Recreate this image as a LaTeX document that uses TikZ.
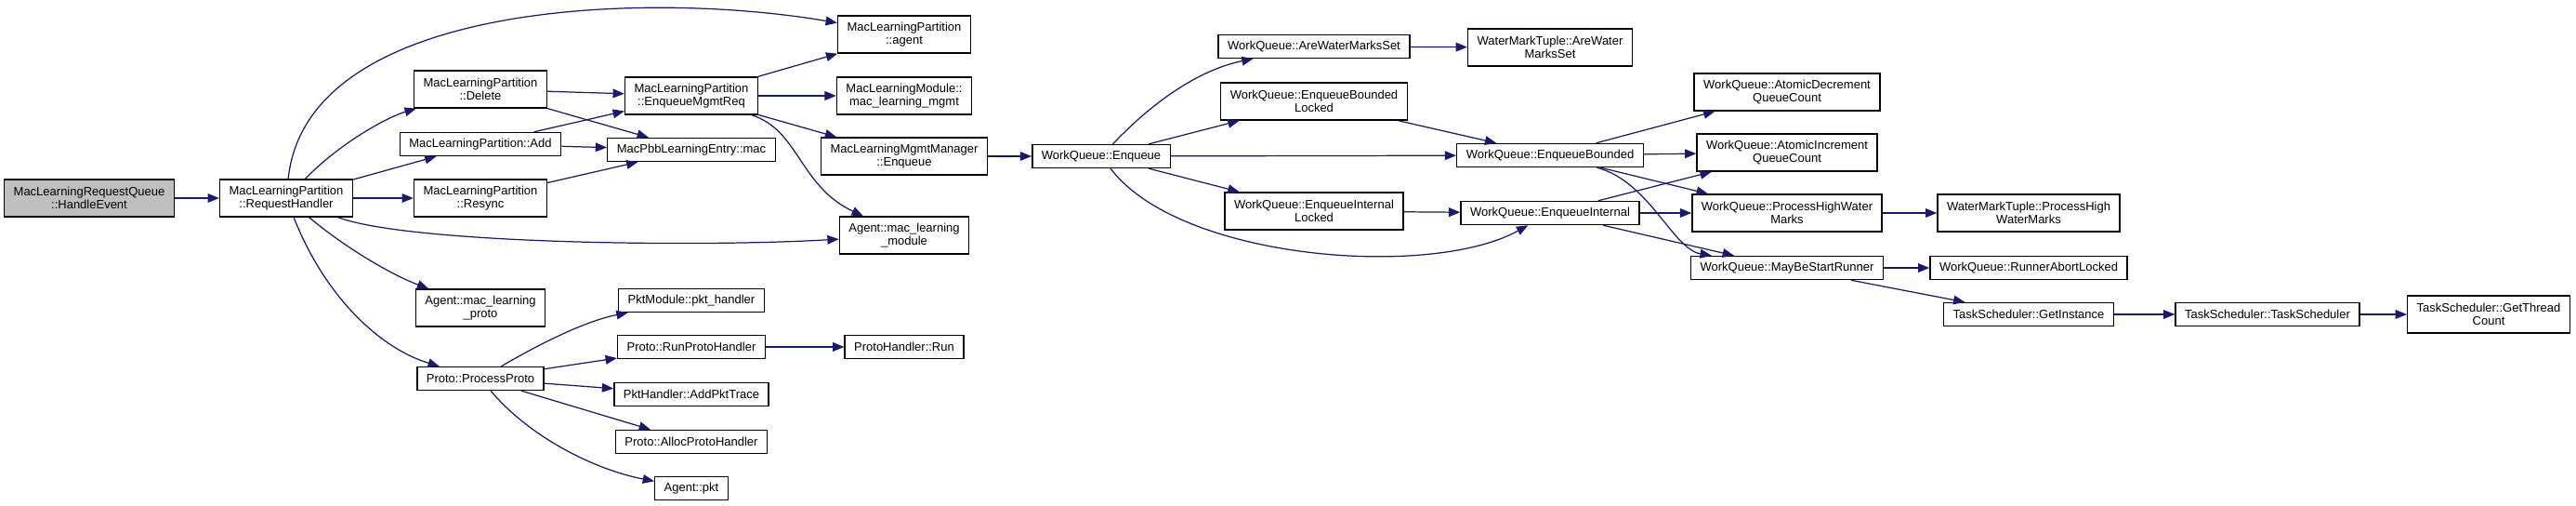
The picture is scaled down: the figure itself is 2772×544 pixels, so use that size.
\documentclass[tikz,border=0pt]{standalone}
\usepackage{fontspec}
\setmainfont{Liberation Sans}
\usetikzlibrary{arrows.meta}

\definecolor{callblue}{HTML}{191970}
\definecolor{rootgray}{HTML}{BFBFBF}

\tikzset{
  fn/.style={draw=black, line width=0.8pt, fill=white, align=center,
    inner xsep=0.2cm, inner ysep=0pt, minimum height=0.5cm,
    font=\fontsize{7.4}{8.1}\selectfont},
  fntwo/.style={fn, minimum height=0.8cm},
  rootfn/.style={fntwo, fill=rootgray},
  call/.style={draw=callblue, line width=0.7pt, -{Triangle[length=7pt,width=5.5pt]}},
}

\begin{document}
\begin{tikzpicture}[x=0.02cm, y=-0.02cm]
  \useasboundingbox (0,0) rectangle (2772,544);

  % Root and first callee
  \node[rootfn] (he) at (96,213) {MacLearningRequestQueue\\::HandleEvent};
  \node[fntwo] (rh) at (308,213) {MacLearningPartition\\::RequestHandler};

  % Third column
  \node[fntwo] (del) at (517,96) {MacLearningPartition\\::Delete};
  \node[fn] (add) at (517,155) {MacLearningPartition::Add};
  \node[fntwo] (rsy) at (517,213) {MacLearningPartition\\::Resync};
  \node[fntwo] (mlp) at (517,331) {Agent::mac\_learning\\\_proto};
  \node[fn] (pp) at (517,407) {Proto::ProcessProto};

  % Fourth column
  \node[fntwo] (emr) at (744,103) {MacLearningPartition\\::EnqueueMgmtReq};
  \node[fn] (mac) at (744,161) {MacPbbLearningEntry::mac};
  \node[fn] (pkth) at (744,323) {PktModule::pkt\_handler};
  \node[fn] (rph) at (744,373) {Proto::RunProtoHandler};
  \node[fn] (apt) at (744,424) {PktHandler::AddPktTrace};
  \node[fn] (aph) at (744,475) {Proto::AllocProtoHandler};
  \node[fn] (pkt) at (744,525) {Agent::pkt};

  % Fifth column
  \node[fntwo] (agt) at (973,37) {MacLearningPartition\\::agent};
  \node[fntwo] (mgmt) at (973,103) {MacLearningModule::\\mac\_learning\_mgmt};
  \node[fntwo] (mme) at (973,168) {MacLearningMgmtManager\\::Enqueue};
  \node[fntwo] (mlm) at (973,253) {Agent::mac\_learning\\\_module};
  \node[fn] (phr) at (973,373) {ProtoHandler::Run};

  % Work queue
  \node[fn] (wqe) at (1185,168) {WorkQueue::Enqueue};
  \node[fn] (awms) at (1414,50) {WorkQueue::AreWaterMarksSet};
  \node[fntwo] (ebl) at (1414,109) {WorkQueue::EnqueueBounded\\Locked};
  \node[fntwo] (eil) at (1414,227) {WorkQueue::EnqueueInternal\\Locked};
  \node[fntwo] (wawms) at (1668,51) {WaterMarkTuple::AreWater\\MarksSet};
  \node[fn] (eb) at (1668,167) {WorkQueue::EnqueueBounded};
  \node[fn] (ei) at (1668,229) {WorkQueue::EnqueueInternal};
  \node[fntwo] (adec) at (1923,99) {WorkQueue::AtomicDecrement\\QueueCount};
  \node[fntwo] (ainc) at (1923,164) {WorkQueue::AtomicIncrement\\QueueCount};
  \node[fntwo] (phwm) at (1923,229) {WorkQueue::ProcessHighWater\\Marks};
  \node[fn] (mbsr) at (1923,288) {WorkQueue::MayBeStartRunner};

  % Task scheduler
  \node[fntwo] (wphwm) at (2183,229) {WaterMarkTuple::ProcessHigh\\WaterMarks};
  \node[fn] (ral) at (2183,288) {WorkQueue::RunnerAbortLocked};
  \node[fn] (gi) at (2183,338) {TaskScheduler::GetInstance};
  \node[fn] (ts) at (2440,338) {TaskScheduler::TaskScheduler};
  \node[fntwo] (gtc) at (2678,338) {TaskScheduler::GetThread\\Count};

  % Calls from the request handler
  \draw[call] (he) -- (rh);
  \draw[call] (rh) .. controls (330,0) and (700,-10) .. (agt);
  \draw[call] (rh) .. controls (370,150) and (420,125) .. (del);
  \draw[call] (rh) -- (add);
  \draw[call] (rh) -- (rsy);
  \draw[call] (rh) .. controls (440,262) and (750,266) .. (mlm);
  \draw[call] (rh) .. controls (370,265) and (420,295) .. (mlp);
  \draw[call] (rh) .. controls (350,320) and (410,375) .. (pp);

  % Partition calls
  \draw[call] (del) -- (emr);
  \draw[call] (del) -- (mac);
  \draw[call] (add) -- (emr);
  \draw[call] (add) -- (mac);
  \draw[call] (rsy) -- (mac);
  \draw[call] (emr) -- (agt);
  \draw[call] (emr) -- (mgmt);
  \draw[call] (emr) -- (mme);
  \draw[call] (emr) .. controls (860,140) and (860,200) .. (mlm);
  \draw[call] (mme) -- (wqe);

  % Work queue calls
  \draw[call] (wqe) .. controls (1240,110) and (1290,75) .. (awms);
  \draw[call] (wqe) -- (ebl);
  \draw[call] (wqe) -- (eb);
  \draw[call] (wqe) -- (eil);
  \draw[call] (wqe) .. controls (1270,280) and (1540,300) .. (ei);
  \draw[call] (awms) -- (wawms);
  \draw[call] (ebl) -- (eb);
  \draw[call] (eil) -- (ei);
  \draw[call] (eb) -- (adec);
  \draw[call] (eb) -- (ainc);
  \draw[call] (eb) -- (phwm);
  \draw[call] (eb) .. controls (1775,195) and (1800,268) .. (mbsr);
  \draw[call] (ei) -- (ainc);
  \draw[call] (ei) -- (phwm);
  \draw[call] (ei) -- (mbsr);
  \draw[call] (phwm) -- (wphwm);
  \draw[call] (mbsr) -- (ral);
  \draw[call] (mbsr) -- (gi);
  \draw[call] (gi) -- (ts);
  \draw[call] (ts) -- (gtc);

  % Proto calls
  \draw[call] (pp) .. controls (580,370) and (630,345) .. (pkth);
  \draw[call] (pp) -- (rph);
  \draw[call] (pp) -- (apt);
  \draw[call] (pp) -- (aph);
  \draw[call] (pp) .. controls (570,470) and (640,505) .. (pkt);
  \draw[call] (rph) -- (phr);
\end{tikzpicture}
\end{document}
